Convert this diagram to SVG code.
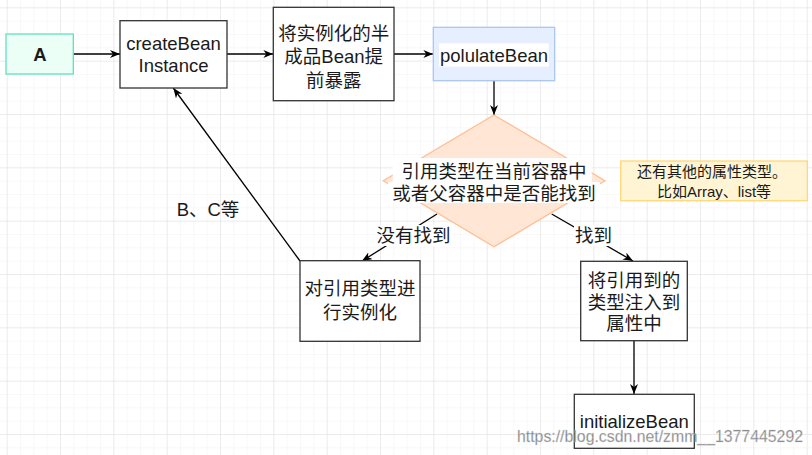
<svg xmlns="http://www.w3.org/2000/svg" width="812" height="455" viewBox="0 0 812 455">
<defs>
<pattern id="minor" patternUnits="userSpaceOnUse" x="6.67" y="7.33" width="13.333" height="13.333">
<path d="M0,0 H13.333 M0,0 V13.333" fill="none" stroke="#f2f2f2" stroke-width="1"/>
</pattern>
<pattern id="major" patternUnits="userSpaceOnUse" x="6.67" y="7.33" width="53.333" height="53.333">
<path d="M0,0 H53.333 M0,0 V53.333" fill="none" stroke="#e0e0e0" stroke-width="1"/>
</pattern>
<marker id="arr" viewBox="0 0 10 8" refX="10" refY="4" markerWidth="10" markerHeight="8" markerUnits="userSpaceOnUse" orient="auto">
<path d="M0,0 L10,4 L0,8 L3,4 z" fill="#000"/>
</marker>
</defs>
<style>
text{font-family:"Liberation Sans","Noto Sans CJK SC",sans-serif;fill:#1a1a1a;text-anchor:middle}
.t{font-size:18.5px}
.s{font-size:15px}
.box{fill:#fff;stroke:#333;stroke-width:1.3}
.edge{fill:none;stroke:#000;stroke-width:1.3;marker-end:url(#arr)}
.bg{fill:#fff}
</style>
<rect width="812" height="455" fill="#fff"/>
<rect width="812" height="455" fill="url(#minor)"/>
<rect width="812" height="455" fill="url(#major)"/>

<g id="connectors">
<path class="edge" d="M73.3,54 L120,54"/>
<path class="edge" d="M227,54 L273.3,54"/>
<path class="edge" d="M394,54 L433.3,54"/>
<path class="edge" d="M494,81 L494,115"/>
<path class="edge" d="M437,214 L362,261"/>
<path class="edge" d="M551.7,214 L633,261"/>
<path class="edge" d="M300,261 L173.3,88"/>
<path class="edge" d="M634,341 L634,394"/>
<rect class="bg" x="376" y="225" width="76" height="21"/>
<text class="t" x="413.5" y="241.5">没有找到</text>
<rect class="bg" x="574" y="225" width="39" height="21"/>
<text class="t" x="593.5" y="241.5">找到</text>
<text class="t" x="208" y="215.5">B、C等</text>
</g>

<g id="nodeA">
<rect x="6" y="34" width="67.3" height="40" fill="#ebfff7" stroke="#5fe0bd" stroke-width="1.3"/>
<text class="t" x="40" y="61" font-weight="bold">A</text>
</g>

<g id="createBeanInstance">
<rect class="box" x="120" y="20.7" width="107" height="67.3"/>
<text class="t" x="173.5" y="49.5">createBean</text>
<text class="t" x="173.5" y="71.5">Instance</text>
</g>

<g id="exposeEarly">
<rect class="box" x="273.3" y="7.3" width="120.7" height="93.4"/>
<text class="t" x="333.7" y="39.8">将实例化的半</text>
<text class="t" x="333.7" y="63.3">成品Bean提</text>
<text class="t" x="333.7" y="86.8">前暴露</text>
</g>

<g id="polulateBean">
<rect x="433.3" y="27.3" width="121.4" height="53.4" fill="#e6efff" stroke="#a9c6ef" stroke-width="1.3"/>
<rect class="bg" x="439" y="43.3" width="109.7" height="23.4"/>
<text class="t" x="494" y="61.5">polulateBean</text>
</g>

<g id="decision">
<path d="M494,115 L605,180.8 L494,246.7 L383.3,180.8 Z" fill="#ffe6d5" stroke="#ffbe94" stroke-width="1.3"/>
<rect class="bg" x="392.7" y="158" width="199" height="24"/>
<rect class="bg" x="388" y="182" width="212" height="21"/>
<text class="t" x="494" y="177.5">引用类型在当前容器中</text>
<text class="t" x="494" y="200">或者父容器中是否能找到</text>
</g>

<g id="note">
<rect x="620.7" y="161" width="186.6" height="39.7" fill="#fff4d4" stroke="#ffd77a" stroke-width="1.3"/>
<text class="s" x="712" y="177.4">还有其他的属性类型。</text>
<text class="s" x="714" y="197.3">比如Array、list等</text>
</g>

<g id="instantiate">
<rect class="box" x="300" y="260.7" width="120" height="80.6"/>
<text class="t" x="360" y="295">对引用类型进</text>
<text class="t" x="360" y="319.3">行实例化</text>
</g>

<g id="inject">
<rect class="box" x="580.7" y="261.3" width="106.6" height="79.4"/>
<text class="t" x="634" y="286.8">将引用到的</text>
<text class="t" x="634" y="308.5">类型注入到</text>
<text class="t" x="634" y="330">属性中</text>
</g>

<g id="initializeBean">
<rect class="box" x="574.3" y="394.3" width="120" height="54"/>
<text class="t" x="634.3" y="428.3">initializeBean</text>
</g>

<text x="660" y="442" font-size="17" textLength="286" lengthAdjust="spacingAndGlyphs" fill="#ffffff" fill-opacity="0.6" stroke="#d4d4d4" stroke-width="0.6" stroke-opacity="0.8">https://blog.csdn.net/zmm__1377445292</text>
</svg>
